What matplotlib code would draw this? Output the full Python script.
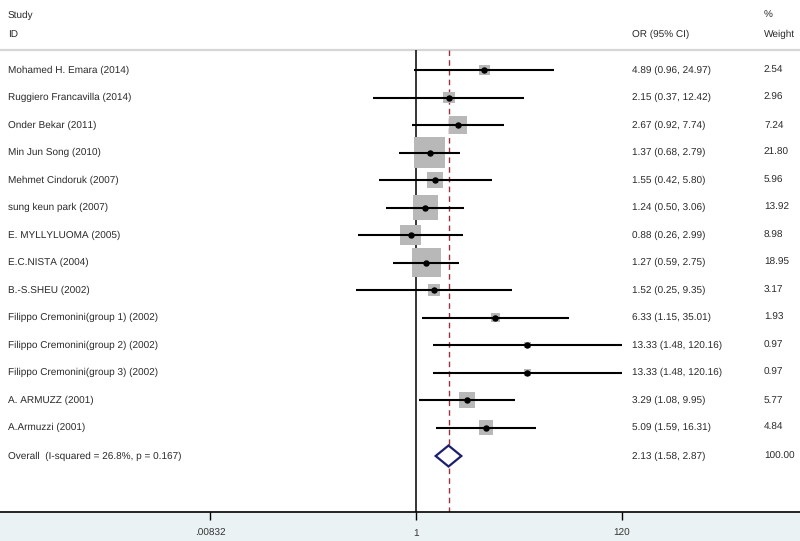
import numpy as np
import matplotlib
matplotlib.use("Agg")
import matplotlib.pyplot as plt
from matplotlib.patches import Polygon

plt.rcParams['font.family'] = ['Liberation Sans', 'DejaVu Sans']
plt.rcParams['text.hinting'] = 'no_hinting'
plt.rcParams['text.hinting_factor'] = 1

studies = ["Mohamed H. Emara (2014)", "Ruggiero Francavilla (2014)", "Onder Bekar (2011)",
           "Min Jun Song (2010)", "Mehmet Cindoruk (2007)", "sung keun park (2007)",
           "E. MYLLYLUOMA (2005)", "E.C.NISTA (2004)", "B.-S.SHEU (2002)",
           "Filippo Cremonini(group 1) (2002)", "Filippo Cremonini(group 2) (2002)",
           "Filippo Cremonini(group 3) (2002)", "A. ARMUZZ (2001)", "A.Armuzzi (2001)"]
or_vals = [4.89, 2.15, 2.67, 1.37, 1.55, 1.24, 0.88, 1.27, 1.52, 6.33, 13.33, 13.33, 3.29, 5.09]
ci_low = [0.96, 0.37, 0.92, 0.68, 0.42, 0.50, 0.26, 0.59, 0.25, 1.15, 1.48, 1.48, 1.08, 1.59]
ci_high = [24.97, 12.42, 7.74, 2.79, 5.80, 3.06, 2.99, 2.75, 9.35, 35.01, 120.16, 120.16, 9.95, 16.31]
weights = [2.54, 2.96, 7.24, 21.80, 5.96, 13.92, 8.98, 18.95, 3.17, 1.93, 0.97, 0.97, 5.77, 4.84]
overall_label = "Overall  (I-squared = 26.8%, p = 0.167)"
overall = (2.13, 1.58, 2.87)
overall_weight = "100.00"
xticks = [0.00832, 1, 120]
xtick_labels = [".00832", "1", "120"]

W, H = 800, 541
fig = plt.figure(figsize=(W / 100, H / 100), dpi=100)
fig.patch.set_facecolor("#EAF2F3")
axis_y = 512
ax = fig.add_axes([0, (H - axis_y) / H, 1, axis_y / H])
ax.set_facecolor("white")

ppl = 43.0  # pixels per ln unit
x0 = 416.0
ax.set_xscale("log")
ax.set_xlim(np.exp(-x0 / ppl), np.exp((W - x0) / ppl))
ax.set_ylim(axis_y, 0)
for s in ["top", "left", "right"]:
    ax.spines[s].set_visible(False)
ax.spines["bottom"].set_linewidth(1.2)
ax.set_yticks([])
ax.set_xticks(xticks)
ax.set_xticklabels(xtick_labels)
ax.minorticks_off()
ax.tick_params(axis="x", direction="out", length=6, width=1, pad=6, labelsize=6.9,
               labelcolor="#333333")

row0, dy = 70.0, 27.5
ys = [row0 + i * dy for i in range(len(studies))]
y_ov = row0 + len(studies) * dy + 1

# header
ax.axhline(50, color="#D6D6D6", lw=1.6)
fs = 6.9
tr = ax.get_yaxis_transform()  # x in axes, y in data


def tx(px, y, s):
    ax.text(px / W, y, s, transform=tr, fontsize=fs, va="center", ha="left", color="#2a2a2a")


tx(8, 15, "Study")
tx(8, 34, "ID")
tx(632, 34, "OR (95% CI)")
tx(764, 15, "%")
tx(764, 34, "Weight")

# reference lines
ax.vlines(1, 50, axis_y, color="black", lw=1.1, zorder=2)
ax.vlines(overall[0], 50, axis_y, color="#9B3040", lw=1.0, linestyles=(0, (4, 3)), zorder=2)

# studies
max_side = 31.5
for i, (st, o, lo, hi, w) in enumerate(zip(studies, or_vals, ci_low, ci_high, weights)):
    y = ys[i]
    side_pt = max_side * np.sqrt(w / 21.8) * 0.72
    ax.scatter([o], [y], marker="s", s=side_pt ** 2, color="#B8B8B8", edgecolors="none", zorder=3)
    ax.hlines(y, lo, hi, color="black", lw=1.5, zorder=4)
    ax.plot([o], [y], "o", color="black", ms=3.6, zorder=5)
    tx(8, y, st)
    tx(632, y, f"{o:.2f} ({lo:.2f}, {hi:.2f})")
    tx(764, y, f"{w:.2f}")

# overall diamond
e, l, h = overall
hh = 10.5
diam = Polygon([(l, y_ov), (e, y_ov - hh), (h, y_ov), (e, y_ov + hh)], closed=True,
               facecolor="white", edgecolor="#1C1F6E", lw=1.6, zorder=5)
ax.add_patch(diam)
tx(8, y_ov, overall_label)
tx(632, y_ov, f"{e:.2f} ({l:.2f}, {h:.2f})")
tx(764, y_ov, overall_weight)

fig.savefig("out.png", dpi=100, facecolor=fig.get_facecolor())
